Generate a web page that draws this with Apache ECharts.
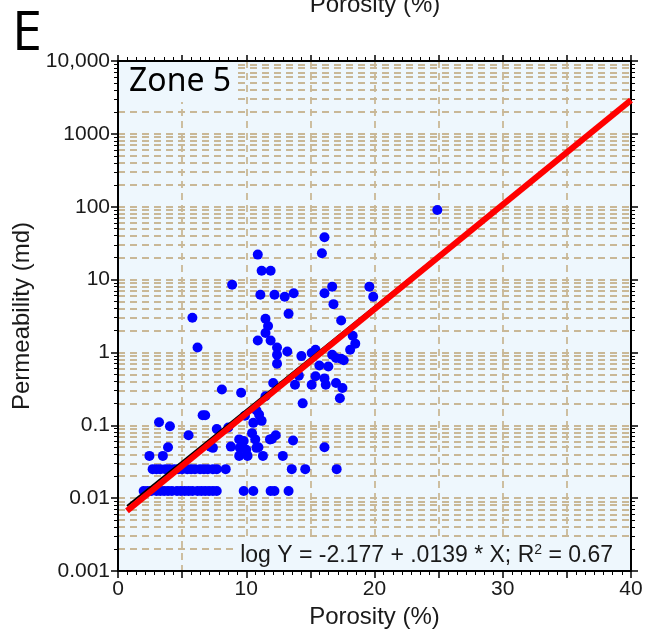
<!DOCTYPE html>
<html>
<head>
<meta charset="utf-8">
<title>Zone 5 - Porosity vs Permeability</title>
<script src="https://cdn.jsdelivr.net/npm/echarts@6/dist/echarts.min.js"></script>
<style>
html, body {
  margin: 0;
  padding: 0;
  background: #fff;
}
#chart {
  width: 645px;
  height: 633px;
}
</style>
</head>
<body>
<div id="chart"></div>
<script>
// porosity (%) / permeability (md) pairs
var porosity = [
  16.1, 15.9, 10.9, 11.2, 11.9, 8.9, 16.7, 16.1, 19.6, 19.9,
  11.1, 12.2, 13.0, 13.7, 16.8, 13.3, 5.8, 11.5, 11.7, 17.4,
  11.5, 10.9, 11.9, 12.4, 13.2, 12.4, 12.4, 6.2, 14.3, 18.3,
  18.5, 18.1, 15.4, 15.1, 16.7, 17.0, 17.4, 17.6, 15.7, 16.4,
  14.1, 15.4, 16.1, 16.2, 15.1, 17.0, 17.5, 17.3, 13.8, 12.1,
  11.5, 8.1, 9.6, 14.4, 10.8, 11.0, 11.2, 9.9, 10.55, 6.6,
  6.8, 3.2, 4.05, 5.5, 7.7, 8.6, 7.2, 7.4, 3.9, 8.8,
  2.45, 3.5, 9.45, 9.8, 10.45, 10.7, 9.5, 10.0, 10.8, 9.45,
  10.1, 11.3, 12.0, 12.3, 11.85, 12.85, 13.65, 10.95, 16.1, 24.9,
  // 0.025 md row
  2.7, 3.0, 3.3, 3.7, 4.0, 4.4, 4.7, 5.0, 5.4, 5.7, 6.0, 6.4, 6.7, 7.0, 7.4, 7.7,
  8.4, 13.55, 14.6, 17.05,
  // 0.0125 md row
  2.0, 2.3, 2.6, 3.0, 3.3, 3.6, 3.9, 4.2, 4.6, 4.9, 5.2, 5.5, 5.8, 6.2, 6.5, 6.8, 7.1, 7.4, 7.7,
  9.8, 10.55, 11.9, 12.2, 13.3
];
var permeability = [
  38, 23, 22, 13.2, 13.2, 8.5, 8.0, 6.5, 8.0, 5.8,
  6.2, 6.2, 5.8, 6.5, 4.6, 3.4, 3.0, 2.9, 2.3, 2.75,
  1.85, 1.46, 1.46, 1.17, 1.03, 0.93, 0.70, 1.17, 0.89, 1.69,
  1.32, 1.09, 1.09, 0.98, 0.93, 0.84, 0.82, 0.78, 0.66, 0.64,
  0.48, 0.47, 0.44, 0.36, 0.36, 0.38, 0.325, 0.235, 0.36, 0.38,
  0.25, 0.31, 0.28, 0.20, 0.16, 0.14, 0.115, 0.135, 0.108, 0.137,
  0.137, 0.11, 0.097, 0.073, 0.089, 0.093, 0.051, 0.049, 0.05, 0.051,
  0.038, 0.038, 0.064, 0.061, 0.078, 0.064, 0.049, 0.046, 0.049, 0.038,
  0.038, 0.038, 0.065, 0.073, 0.064, 0.038, 0.062, 0.05, 0.05, 90,
  0.025, 0.025, 0.025, 0.025, 0.025, 0.025, 0.025, 0.025, 0.025, 0.025, 0.025, 0.025, 0.025, 0.025, 0.025, 0.025,
  0.025, 0.025, 0.025, 0.025,
  0.0125, 0.0125, 0.0125, 0.0125, 0.0125, 0.0125, 0.0125, 0.0125, 0.0125, 0.0125, 0.0125, 0.0125, 0.0125, 0.0125, 0.0125, 0.0125, 0.0125, 0.0125, 0.0125,
  0.0125, 0.0125, 0.0125, 0.0125, 0.0125
];

// regression line end points (red) and the thin black line under it
var fitX = [0.7, 40];
var fitY = [0.0067, 2900];
var fitBlackY = [0.0078, 2900];

var xTickLabels = ['0', '10', '20', '30', '40'];
var yTickLabels = ['0.001', '0.01', '0.1', '1', '10', '100', '1000', '10,000'];
var equationText = 'log Y = -2.177 + .0139 * X; R';
var r2Text = ' = 0.67';

var plotBg = '#eef7fd';
var gridColor = '#c9b897';
var labelFont = 'Liberation Sans';

var chart = echarts.init(document.getElementById('chart'));

var points = [];
for (var i = 0; i < porosity.length; i++) {
  points.push([porosity[i], permeability[i]]);
}

function lineData(ys) {
  var out = [];
  for (var i = 0; i < fitX.length; i++) {
    out.push([fitX[i], ys[i]]);
  }
  return out;
}

var option = {
  backgroundColor: '#fff',
  animation: false,
  grid: {
    left: 118,
    right: 14,
    top: 61,
    bottom: 62,
    show: true,
    backgroundColor: plotBg,
    borderWidth: 0,
    outerBoundsMode: 'none'
  },
  xAxis: [{
    type: 'value',
    position: 'bottom',
    min: 0,
    max: 40,
    interval: 5,
    axisLine: { show: true, onZero: false, lineStyle: { color: '#000', width: 2 } },
    axisTick: { show: true, length: 7, lineStyle: { color: '#000', width: 1.5 } },
    minorTick: { show: true, splitNumber: 7, length: 4, lineStyle: { color: '#000', width: 1 } },
    axisLabel: {
      fontSize: 21,
      color: '#1a1a1a',
      margin: 8,
      fontFamily: labelFont,
      formatter: function (v) {
        // labels only every 10 %
        return v % 10 === 0 ? xTickLabels[v / 10] : '';
      }
    },
    splitLine: { show: true, lineStyle: { color: gridColor, type: [7, 5], width: 1.8 } },
    name: 'Porosity (%)',
    nameLocation: 'middle',
    nameGap: 32,
    nameTextStyle: { fontSize: 24, color: '#1a1a1a', fontFamily: labelFont }
  }, {
    type: 'value',
    position: 'top',
    min: 0,
    max: 40,
    interval: 5,
    axisLine: { show: true, onZero: false, lineStyle: { color: '#000', width: 2 } },
    axisTick: { show: true, length: 6, lineStyle: { color: '#000', width: 1.5 } },
    minorTick: { show: true, splitNumber: 7, length: 4, lineStyle: { color: '#000', width: 1 } },
    axisLabel: { show: false },
    splitLine: { show: false }
  }],
  yAxis: [{
    type: 'log',
    logBase: 10,
    position: 'left',
    min: 0.001,
    max: 10000,
    splitNumber: 7,
    axisLine: { show: true, onZero: false, lineStyle: { color: '#000', width: 2 } },
    axisTick: { show: true, length: 7, lineStyle: { color: '#000', width: 1.5 } },
    minorTick: { show: true, splitNumber: 9, length: 4, lineStyle: { color: '#000', width: 1 } },
    axisLabel: {
      fontSize: 21,
      color: '#1a1a1a',
      margin: 8,
      fontFamily: labelFont,
      formatter: function (v) {
        var e = Math.round(Math.log10(v));
        return yTickLabels[e + 3];
      }
    },
    splitLine: { show: true, lineStyle: { color: gridColor, type: [7, 5], width: 1.8 } },
    minorSplitLine: { show: true, lineStyle: { color: gridColor, type: [7, 5], width: 1.8 } },
    name: 'Permeability (md)',
    nameLocation: 'middle',
    nameGap: 80,
    nameRotate: 90,
    nameTextStyle: { fontSize: 24, color: '#1a1a1a', fontFamily: labelFont }
  }, {
    type: 'log',
    logBase: 10,
    position: 'right',
    min: 0.001,
    max: 10000,
    splitNumber: 7,
    axisLine: { show: true, onZero: false, lineStyle: { color: '#000', width: 2 } },
    axisTick: { show: true, length: 7, lineStyle: { color: '#000', width: 1.5 } },
    minorTick: { show: true, splitNumber: 9, length: 4, lineStyle: { color: '#000', width: 1 } },
    axisLabel: { show: false },
    splitLine: { show: false }
  }],
  series: [{
    name: 'samples',
    type: 'scatter',
    xAxisIndex: 0,
    yAxisIndex: 0,
    data: points,
    symbolSize: 10,
    itemStyle: { color: '#0000ff', opacity: 1 },
    z: 3
  }, {
    name: 'fit-black',
    type: 'line',
    xAxisIndex: 0,
    yAxisIndex: 0,
    data: lineData(fitBlackY),
    showSymbol: false,
    symbol: 'none',
    lineStyle: { color: '#000', width: 2 },
    z: 4
  }, {
    name: 'fit',
    type: 'line',
    xAxisIndex: 0,
    yAxisIndex: 0,
    data: lineData(fitY),
    showSymbol: false,
    symbol: 'none',
    lineStyle: { color: '#ff0000', width: 6 },
    z: 5
  }],
  graphic: [
    {
      type: 'text',
      left: 12,
      top: 8,
      style: { text: 'E', fontSize: 54, fontFamily: 'Open Sans', fill: '#000' }
    },
    {
      type: 'text',
      x: 375,
      y: -7,
      style: { text: 'Porosity (%)', fontSize: 24, fontFamily: labelFont, fill: '#1a1a1a', align: 'center', verticalAlign: 'top' }
    },
    {
      type: 'rect',
      shape: { x: 119, y: 62, width: 114, height: 40 },
      style: { fill: plotBg },
      z: 50
    },
    {
      type: 'text',
      x: 129,
      y: 82,
      style: { text: 'Zone 5', fontSize: 32, fontFamily: 'Noto Sans', fill: '#000', verticalAlign: 'middle' },
      z: 51
    },
    {
      type: 'rect',
      shape: { x: 233, y: 541, width: 396, height: 29 },
      style: { fill: plotBg },
      z: 50
    },
    {
      type: 'text',
      x: 613,
      y: 556,
      style: {
        text: '{a|' + equationText + '}{s|2}{a|' + r2Text + '}',
        align: 'right',
        verticalAlign: 'middle',
        rich: {
          a: { fontSize: 23, fontFamily: labelFont, fill: '#1a1a1a', lineHeight: 26 },
          s: { fontSize: 14, fontFamily: labelFont, fill: '#1a1a1a', verticalAlign: 'top', lineHeight: 26, padding: [0, 0, 10, 0] }
        }
      },
      z: 51
    }
  ]
};

chart.setOption(option);
</script>
</body>
</html>
